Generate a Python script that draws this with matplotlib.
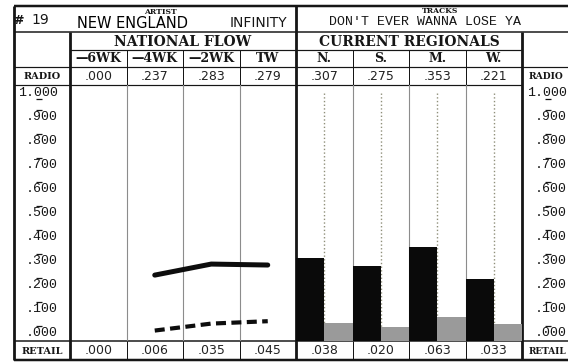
import matplotlib
matplotlib.use("Agg")
import matplotlib.pyplot as plt
from matplotlib.transforms import offset_copy

# chart data
RANK = "19"
ARTIST = "NEW ENGLAND"
ALBUM = "INFINITY"
TRACK = "DON'T EVER WANNA LOSE YA"

FLOW_WEEKS = ["\u20146WK", "\u20144WK", "\u20142WK", "TW"]
FLOW_RADIO = [0.000, 0.237, 0.283, 0.279]
FLOW_RETAIL = [0.000, 0.006, 0.035, 0.045]

REGIONS = ["N.", "S.", "M.", "W."]
REGION_RADIO = [0.307, 0.275, 0.353, 0.221]
REGION_RETAIL = [0.038, 0.020, 0.063, 0.033]

Y_TICKS = [1.0, 0.9, 0.8, 0.7, 0.6, 0.5, 0.4, 0.3, 0.2, 0.1, 0.0]

# layout, in pixels of the 568x362 page
W, H = 568, 362
X_L, X_LAB, X_R = 14, 70, 522
Y_TOP, Y_R1, Y_R2, Y_R3, Y_R4, Y_RET, Y_BOT = 6, 32, 50, 67, 85, 341, 360
NCOL = len(FLOW_WEEKS) + len(REGIONS)
COLW = (X_R - X_LAB) / NCOL
X_MID = X_LAB + len(FLOW_WEEKS) * COLW
YLO, YHI = -0.0375, 1.029
PT = 0.72  # points per pixel at dpi 100
INK = "#161616"

SERIF_B = dict(family="DejaVu Serif", weight="bold", color=INK)
NUM = dict(family="DejaVu Sans", color="#222", fontsize=9)
MONO = ["Liberation Mono", "DejaVu Sans Mono"]


def fmt(v):
    s = f"{v:.3f}"
    return s[1:] if s.startswith("0") else s


fig = plt.figure(figsize=(W / 100, H / 100), dpi=100, facecolor="white")
frame = fig.add_axes([0, 0, 1, 1])
frame.set_xlim(0, W)
frame.set_ylim(H, 0)
frame.axis("off")


def hline(y, x0, x1, lw=1.0, color=INK):
    frame.plot([x0, x1], [y, y], color=color, lw=lw * PT, solid_capstyle="butt")


def vline(x, y0, y1, lw=1.0, color=INK):
    frame.plot([x, x], [y0, y1], color=color, lw=lw * PT, solid_capstyle="butt")


def colx(i):
    return X_LAB + (i + 0.5) * COLW


# table frame
hline(Y_TOP, X_L, W, 2.5)
hline(Y_BOT, X_L, W, 2.5)
hline(Y_R1, X_L, W, 1.5)
hline(Y_R2, X_LAB, X_R, 1.2)
hline(Y_R3, X_L, W, 1.2)
hline(Y_R4, X_L, X_R, 1.2)
hline(Y_RET, X_L, W, 1.5)
vline(X_L, Y_TOP, Y_BOT, 2.8)
vline(X_LAB, Y_R1, Y_BOT, 2.8)
vline(X_MID, Y_TOP, Y_BOT, 2.8)
vline(X_R, Y_R1, Y_BOT, 2.8)
for i in range(1, NCOL):
    if i == len(FLOW_WEEKS):
        continue
    x = X_LAB + i * COLW
    vline(x, Y_R2, Y_R4, 1.0)
    vline(x, Y_RET, Y_BOT, 1.0)

# header texts
frame.text(18, 20, "#", ha="center", va="center", fontsize=9, weight="bold", color=INK)
frame.text(40, 20, RANK, ha="center", va="center", fontsize=10, color=INK)
frame.text(160, 12, "ARTIST", ha="center", va="center", fontsize=5.5, **SERIF_B)
frame.text(77, 23, ARTIST, ha="left", va="center", fontsize=10.5, color="#000")
frame.text(287, 23, ALBUM, ha="right", va="center", fontsize=10, color=INK)
frame.text(440, 11, "TRACKS", ha="center", va="center", fontsize=5.5, **SERIF_B)
frame.text(425, 22, TRACK, ha="center", va="center", fontsize=9.5, family=MONO, color=INK)
frame.text((X_LAB + X_MID) / 2, 41.5, "NATIONAL FLOW", ha="center", va="center", fontsize=10, **SERIF_B)
frame.text((X_MID + X_R) / 2, 41.5, "CURRENT REGIONALS", ha="center", va="center", fontsize=10, **SERIF_B)
for i, lab in enumerate(FLOW_WEEKS + REGIONS):
    frame.text(colx(i), 59, lab, ha="center", va="center", fontsize=9, **SERIF_B)

radio_vals = FLOW_RADIO + REGION_RADIO
retail_vals = FLOW_RETAIL + REGION_RETAIL
for i in range(NCOL):
    frame.text(colx(i), 76.5, fmt(radio_vals[i]), ha="center", va="center", **NUM)
    frame.text(colx(i), 351, fmt(retail_vals[i]), ha="center", va="center", **NUM)
frame.text((X_L + X_LAB) / 2, 76.5, "RADIO", ha="center", va="center", fontsize=7, **SERIF_B)
frame.text((X_L + X_LAB) / 2, 351, "RETAIL", ha="center", va="center", fontsize=7, **SERIF_B)
frame.text(529, 76.5, "RADIO", ha="left", va="center", fontsize=6.6, **SERIF_B)
frame.text(529, 351, "RETAIL", ha="left", va="center", fontsize=6.4, **SERIF_B)

# plot area
ax = fig.add_axes([X_LAB / W, 1 - Y_RET / H, (X_R - X_LAB) / W, (Y_RET - Y_R4) / H])
ax.set_facecolor("none")
ax.set_xlim(0, NCOL)
ax.set_ylim(YLO, YHI)
for s in ax.spines.values():
    s.set_visible(False)
ax.set_xticks([])
ax.set_yticks([])

for i in range(1, len(FLOW_WEEKS)):
    ax.axvline(i, color="#8c8c8c", lw=0.8, zorder=1)
for i in range(len(FLOW_WEEKS) + 1, NCOL):
    ax.axvline(i, color="#8c8c8c", lw=0.8, zorder=1)

# national flow lines
fx = [i + 0.5 for i in range(len(FLOW_WEEKS)) if FLOW_RADIO[i] > 0]
fr = [v for v in FLOW_RADIO if v > 0]
ft = [FLOW_RETAIL[i] for i in range(len(FLOW_WEEKS)) if FLOW_RADIO[i] > 0]
ax.plot(fx, fr, color="#0d0d0d", lw=3.6, solid_capstyle="round", zorder=3)
ax.plot(fx, ft, color="#0d0d0d", lw=3.0, ls=(0, (2.4, 1.3)), dash_capstyle="butt", zorder=3)

# regional bars
off = len(FLOW_WEEKS)
rx = [off + i for i in range(len(REGIONS))]
ax.vlines([x + 0.5 for x in rx], YLO, 1.0, colors="#8f8f7a", linestyles=":", lw=1.0, zorder=1)
ax.bar(rx, [v - YLO for v in REGION_RADIO], bottom=YLO, width=0.5, align="edge",
       color="#0a0a0a", zorder=2)
ax.bar([x + 0.5 for x in rx], [v - YLO for v in REGION_RETAIL], bottom=YLO, width=0.5,
       align="edge", color="#9a9a9a", zorder=2)

# y scale labels on both sides, with a small level mark over (or under) one digit
adv = 0.6 * 9.5  # mono advance in points
for xa, dx in [(0, -12 * PT), (1, 45 * PT)]:
    for v in Y_TICKS:
        ax.annotate(fmt(v), xy=(xa, v), xycoords=("axes fraction", "data"),
                    xytext=(dx, -3), textcoords="offset points", ha="right", va="baseline",
                    fontsize=9.5, family=MONO, color=INK, annotation_clip=False)
        dy = -5 if v == 1.0 else 4.6
        tr = offset_copy(ax.get_yaxis_transform(), fig=fig, x=dx - 2.5 * adv + 0.7, y=dy,
                         units="points")
        ax.plot([xa], [v], marker="_", ms=4.5, mew=0.9, color=INK, transform=tr, clip_on=False)

fig.savefig("out.png", dpi=100, facecolor="white")
